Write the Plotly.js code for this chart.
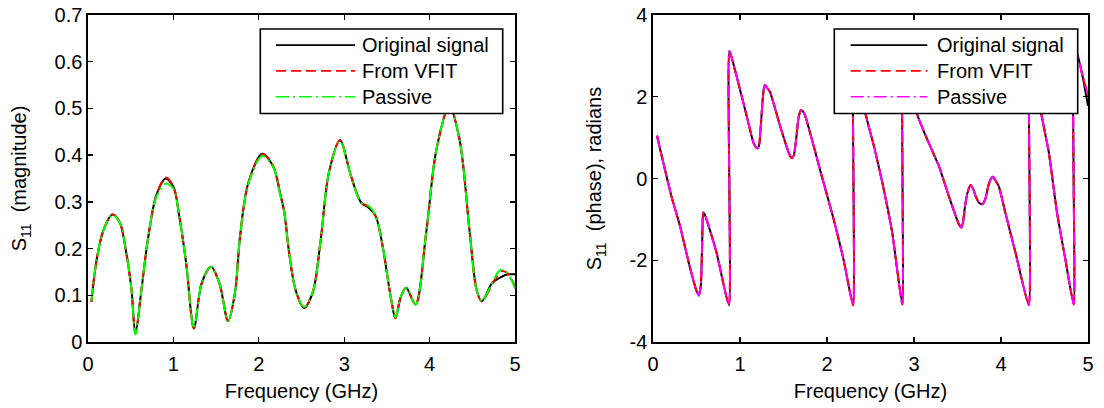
<!DOCTYPE html>
<html>
<head>
<meta charset="utf-8">
<script src="https://cdn.plot.ly/plotly-3.0.1.min.js"></script>
<style>html,body{margin:0;padding:0;background:#fff;}#chart{width:1104px;height:408px;}</style>
</head>
<body>
<div id="chart"></div>
<script>
// ---------- Data ----------
// Left panel: |S11| magnitude vs frequency (GHz)
const magFreqOrig = [0.04,0.10,0.18,0.285,0.37,0.45,0.51,0.555,0.625,0.70,0.80,0.91,1.00,1.07,1.15,1.24,1.33,1.44,1.54,1.64,1.72,1.78,1.875,2.04,2.17,2.25,2.30,2.35,2.43,2.53,2.63,2.725,2.82,2.95,3.08,3.20,3.29,3.37,3.45,3.55,3.60,3.66,3.725,3.835,3.96,4.08,4.23,4.35,4.47,4.55,4.61,4.73,4.80,4.88,4.94,5.00];
const magOrig     = [0.086,0.175,0.239,0.273,0.257,0.189,0.111,0.018,0.111,0.218,0.314,0.350,0.332,0.268,0.168,0.029,0.125,0.161,0.125,0.045,0.104,0.225,0.339,0.403,0.375,0.318,0.276,0.198,0.112,0.073,0.105,0.219,0.362,0.432,0.355,0.298,0.287,0.269,0.205,0.091,0.051,0.095,0.116,0.080,0.234,0.412,0.505,0.434,0.234,0.112,0.087,0.126,0.135,0.143,0.145,0.145];
const magFreqVfit = [0.04,0.10,0.18,0.285,0.37,0.45,0.51,0.555,0.625,0.70,0.80,0.91,1.00,1.07,1.15,1.24,1.33,1.44,1.54,1.64,1.72,1.78,1.875,2.04,2.17,2.25,2.30,2.35,2.43,2.53,2.63,2.725,2.82,2.95,3.08,3.20,3.29,3.37,3.45,3.55,3.60,3.66,3.725,3.835,3.96,4.08,4.23,4.35,4.47,4.55,4.61,4.73,4.78,4.85,4.92,5.00];
const magVfit     = [0.086,0.175,0.239,0.273,0.257,0.189,0.111,0.018,0.111,0.218,0.314,0.352,0.332,0.268,0.168,0.029,0.125,0.161,0.125,0.045,0.104,0.225,0.339,0.402,0.376,0.318,0.276,0.198,0.112,0.073,0.105,0.219,0.362,0.432,0.355,0.298,0.290,0.269,0.205,0.091,0.051,0.095,0.116,0.080,0.234,0.412,0.505,0.434,0.234,0.112,0.087,0.122,0.138,0.152,0.146,0.118];
const magFreqPass = [0.04,0.10,0.18,0.285,0.37,0.45,0.51,0.555,0.625,0.70,0.80,0.91,1.00,1.07,1.15,1.24,1.33,1.44,1.54,1.64,1.72,1.78,1.875,2.04,2.17,2.25,2.30,2.35,2.43,2.53,2.63,2.725,2.82,2.95,3.08,3.20,3.29,3.37,3.45,3.55,3.60,3.66,3.725,3.835,3.96,4.08,4.23,4.35,4.47,4.55,4.61,4.71,4.77,4.83,4.90,4.96,5.00];
const magPass     = [0.088,0.175,0.239,0.272,0.257,0.189,0.111,0.016,0.111,0.218,0.310,0.339,0.328,0.268,0.168,0.029,0.125,0.161,0.125,0.045,0.104,0.225,0.337,0.398,0.374,0.315,0.276,0.198,0.112,0.075,0.105,0.219,0.362,0.430,0.355,0.298,0.291,0.269,0.205,0.091,0.053,0.095,0.116,0.080,0.234,0.412,0.505,0.434,0.234,0.112,0.087,0.118,0.140,0.154,0.150,0.132,0.114];

// Right panel: S11 phase (radians) vs frequency (GHz)
const phFreq = [0.046,0.21,0.31,0.42,0.50,0.527,0.55,0.565,0.577,0.595,0.615,0.73,0.873,0.878,0.96,1.077,1.154,1.185,1.204,1.222,1.24,1.258,1.275,1.288,1.305,1.346,1.46,1.558,1.585,1.60,1.62,1.645,1.673,1.70,1.725,1.75,1.846,1.96,2.077,2.19,2.30,2.305,2.38,2.445,2.54,2.637,2.75,2.866,2.872,2.95,3.038,3.153,3.287,3.40,3.516,3.545,3.565,3.585,3.615,3.65,3.68,3.708,3.75,3.784,3.82,3.853,3.88,3.906,3.94,3.975,4.05,4.166,4.32,4.326,4.40,4.465,4.55,4.644,4.74,4.836,4.842,4.874,4.93,5.00];
const phOrig = [1.045,-0.42,-1.16,-2.14,-2.75,-2.86,-2.6,-1.6,-0.83,-0.88,-1.0,-1.81,-3.1,3.12,2.51,1.53,0.88,0.76,0.74,0.85,1.30,1.86,2.22,2.29,2.24,2.11,1.29,0.64,0.52,0.50,0.58,0.95,1.49,1.67,1.64,1.53,0.80,-0.10,-1.00,-1.98,-3.1,3.12,2.35,1.56,0.79,-0.11,-1.33,-3.08,3.12,2.35,1.56,0.95,0.30,-0.43,-1.12,-1.2,-1.05,-0.7,-0.35,-0.16,-0.26,-0.43,-0.60,-0.63,-0.50,-0.19,-0.02,0.04,-0.06,-0.19,-0.84,-1.81,-3.1,3.12,2.35,1.56,0.63,-0.84,-1.98,-3.08,3.12,3.05,2.58,1.78];
const phVfit = [1.045,-0.42,-1.16,-2.14,-2.75,-2.86,-2.6,-1.6,-0.83,-0.88,-1.0,-1.81,-3.1,3.12,2.51,1.53,0.88,0.76,0.74,0.85,1.30,1.86,2.22,2.29,2.24,2.11,1.29,0.64,0.52,0.50,0.58,0.95,1.49,1.67,1.64,1.53,0.80,-0.10,-1.00,-1.98,-3.1,3.12,2.35,1.56,0.79,-0.11,-1.33,-3.08,3.12,2.35,1.56,0.95,0.30,-0.43,-1.12,-1.2,-1.05,-0.7,-0.35,-0.16,-0.26,-0.43,-0.60,-0.63,-0.50,-0.19,-0.02,0.04,-0.06,-0.19,-0.84,-1.81,-3.1,3.12,2.35,1.56,0.63,-0.84,-1.98,-3.08,3.12,3.05,2.58,2.02];
const phPass = [1.045,-0.42,-1.16,-2.14,-2.75,-2.86,-2.6,-1.6,-0.83,-0.88,-1.0,-1.81,-3.1,3.12,2.51,1.53,0.88,0.76,0.74,0.85,1.30,1.86,2.22,2.29,2.24,2.11,1.29,0.64,0.52,0.50,0.58,0.95,1.49,1.67,1.64,1.53,0.80,-0.10,-1.00,-1.98,-3.1,3.12,2.35,1.56,0.79,-0.11,-1.33,-3.08,3.12,2.35,1.56,0.95,0.30,-0.43,-1.12,-1.2,-1.05,-0.7,-0.35,-0.16,-0.26,-0.43,-0.60,-0.63,-0.50,-0.19,-0.02,0.04,-0.06,-0.19,-0.84,-1.81,-3.1,3.12,2.35,1.56,0.63,-0.84,-1.98,-3.08,3.12,3.05,2.58,2.05];

// Labels
const seriesNames = ["Original signal", "From VFIT", "Passive"];
const xTickVals = [0,1,2,3,4,5];
const xTickText = ["0","1","2","3","4","5"];
const magTickVals = [0,0.1,0.2,0.3,0.4,0.5,0.6,0.7];
const magTickText = ["0","0.1","0.2","0.3","0.4","0.5","0.6","0.7"];
const phTickVals = [-4,-2,0,2,4];
const phTickText = ["-4","-2","0","2","4"];

// ---------- Styling ----------
const FONT = "Liberation Sans, Arial, Helvetica, sans-serif";
const LW = 2;
const dashRed = "10px,5px";
const dashDot = "13px,4px,2px,4px";

const traces = [
  {x: magFreqOrig, y: magOrig, xaxis:'x', yaxis:'y', mode:'lines', name: seriesNames[0],
   line:{color:'#000000', width:LW, shape:'spline', smoothing:0.9}},
  {x: magFreqVfit, y: magVfit, xaxis:'x', yaxis:'y', mode:'lines', name: seriesNames[1],
   line:{color:'#ff0000', width:LW, dash:dashRed, shape:'spline', smoothing:0.9}},
  {x: magFreqPass, y: magPass, xaxis:'x', yaxis:'y', mode:'lines', name: seriesNames[2],
   line:{color:'#00ff00', width:LW, dash:dashDot, shape:'spline', smoothing:0.9}},
  {x: phFreq, y: phOrig, xaxis:'x2', yaxis:'y2', mode:'lines', name: seriesNames[0],
   line:{color:'#000000', width:LW, shape:'spline', smoothing:0.5}},
  {x: phFreq, y: phVfit, xaxis:'x2', yaxis:'y2', mode:'lines', name: seriesNames[1],
   line:{color:'#ff0000', width:LW, dash:dashRed, shape:'spline', smoothing:0.5}},
  {x: phFreq, y: phPass, xaxis:'x2', yaxis:'y2', mode:'lines', name: seriesNames[2],
   line:{color:'#ff00ff', width:LW, dash:dashDot, shape:'spline', smoothing:0.5}}
];

const axisCommon = {
  showgrid:false, zeroline:false, showline:true, linecolor:'#000', linewidth:1.6,
  mirror:'ticks', ticks:'inside', ticklen:5, tickwidth:1.3, tickcolor:'#000',
  tickfont:{family:FONT, size:20, color:'#000'}, fixedrange:true
};

// Manual MATLAB-style legend boxes (paper coordinates)
function legend(x0, x1, y0, y1, lx0, lx1, tx, rows, colors) {
  const shapes = [{type:'rect', xref:'paper', yref:'paper', x0:x0, x1:x1, y0:y0, y1:y1,
    line:{color:'#000', width:1.6}, fillcolor:'#fff', layer:'above'}];
  const dashes = ['solid', dashRed, dashDot];
  const ann = [];
  rows.forEach((ry, i) => {
    shapes.push({type:'line', xref:'paper', yref:'paper', x0:lx0, x1:lx1, y0:ry, y1:ry,
      line:{color:colors[i], width:1.6, dash:dashes[i]}, layer:'above'});
    ann.push({xref:'paper', yref:'paper', x:tx, y:ry, xanchor:'left', yanchor:'middle',
      text:seriesNames[i], showarrow:false, font:{family:FONT, size:20, color:'#000'}});
  });
  return {shapes, ann};
}
const rows = [0.908, 0.829, 0.750];
const L1 = legend(0.1723, 0.4147, 0.699, 0.957, 0.188, 0.267, 0.2715, rows, ['#000','#ff0000','#00ff00']);
const L2 = legend(0.7463, 0.9897, 0.699, 0.957, 0.7627, 0.8393, 0.8467, rows, ['#000','#ff0000','#ff00ff']);

const layout = {
  width:1104, height:408,
  margin:{l:88, r:16, t:15, b:66},
  paper_bgcolor:'#fff', plot_bgcolor:'#fff',
  showlegend:false,
  font:{family:FONT, size:20, color:'#000'},
  xaxis: Object.assign({}, axisCommon, {domain:[0,0.427], range:[0,5], tickvals:xTickVals, ticktext:xTickText,
    ticklabelstandoff:3,
    title:{text:'Frequency (GHz)', font:{family:FONT, size:20}, standoff:10}, anchor:'y'}),
  yaxis: Object.assign({}, axisCommon, {domain:[0,1], range:[0,0.7], tickvals:magTickVals, ticktext:magTickText,
    title:{text:'S<sub>11</sub>  (magnitude)', font:{family:FONT, size:20}, standoff:22}, anchor:'x'}),
  xaxis2: Object.assign({}, axisCommon, {domain:[0.565,1], range:[0,5], tickvals:xTickVals, ticktext:xTickText,
    ticklabelstandoff:3,
    title:{text:'Frequency (GHz)', font:{family:FONT, size:20}, standoff:10}, anchor:'y2'}),
  yaxis2: Object.assign({}, axisCommon, {domain:[0,1], range:[-4,4], tickvals:phTickVals, ticktext:phTickText,
    title:{text:'S<sub>11</sub>  (phase), radians', font:{family:FONT, size:20}, standoff:22}, anchor:'x2'}),
  shapes: L1.shapes.concat(L2.shapes),
  annotations: L1.ann.concat(L2.ann)
};

Plotly.newPlot('chart', traces, layout, {displayModeBar:false, staticPlot:true});
</script>
</body>
</html>
